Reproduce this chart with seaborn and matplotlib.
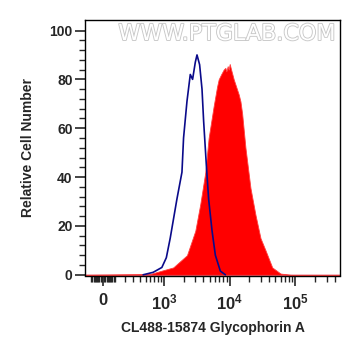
import numpy as np
import pandas as pd
import matplotlib
matplotlib.use("Agg")
import matplotlib.pyplot as plt
import matplotlib.patheffects as pe
from matplotlib.ticker import FixedLocator, NullFormatter
import seaborn as sns

# ---- data ----
blue_x = [456, 668, 919, 1080, 1241, 1575, 1882, 1991, 2246, 2524, 2737, 3011, 3196,
          3503, 3811, 4032, 4434, 4808, 5420, 6088, 7257, 8650]
blue_y = [0, 1, 3, 7, 15, 31, 42, 56, 71, 82, 80, 87, 90,
          86, 76, 63, 45, 31, 18, 8, 1.5, 0]

red_x = [-160, 597, 865, 1381, 2246, 3011, 3591, 4280, 4808, 5733, 6461, 6839, 7437,
         8148, 8650, 8958, 9379, 9718, 10060, 10573, 11583, 13050, 13810, 14660, 15560,
         17476, 20840, 24840, 29600, 35280, 44670, 59760, 85050, 480000]
red_y = [0, 0.3, 1.5, 3, 8, 18, 29, 42, 56, 69, 77, 80, 82,
         84, 84.7, 83.3, 85.4, 84, 86.3, 84, 80, 75.8, 73.8, 71, 66,
         52, 35.5, 24.5, 15, 10, 3, 0.5, 0, 0]

x_tick_vals = [0, 1e3, 1e4, 1e5]
x_tick_labels = [r"$\mathbf{0}$", r"$\mathbf{10^3}$", r"$\mathbf{10^4}$", r"$\mathbf{10^5}$"]
y_tick_vals = [0, 20, 40, 60, 80, 100]

sns.set_style("ticks")
plt.rcParams['font.family'] = ['Liberation Sans', 'DejaVu Sans']
plt.rcParams['mathtext.fontset'] = 'custom'
plt.rcParams['mathtext.bf'] = 'Liberation Sans:bold'
plt.rcParams['mathtext.rm'] = 'Liberation Sans'

fig = plt.figure(figsize=(3.61, 3.56), dpi=100)
ax = fig.add_axes([85/361, 1-275.5/356, (340-85)/361, (275.5-20)/356])

ax.set_xscale('asinh', linear_width=237.6)

red = pd.DataFrame({"x": red_x, "y": red_y})
blue = pd.DataFrame({"x": blue_x, "y": blue_y})
ax.axhline(0, color="#c8a8d8", linewidth=1.0, zorder=1)
ax.fill_between(red["x"], red["y"], 0, color="#ff0000", linewidth=0.6, edgecolor="#ff4040", zorder=2)
sns.lineplot(data=blue, x="x", y="y", ax=ax, color="#0a0a8a", linewidth=1.2, zorder=3,
             estimator=None, sort=False)

ax.set_xlim(-160, 480000)
ax.set_ylim(-0.3, 104.3)

# ticks
ax.xaxis.set_major_locator(FixedLocator(x_tick_vals))
ax.set_xticklabels(x_tick_labels)
minor_x = ([v for v in range(-100, 101, 10) if v != 0] +
           [v * 100 for v in range(2, 10)] + [v * 1000 for v in range(2, 10)] +
           [v * 10000 for v in range(2, 10)] + [v * 100000 for v in range(2, 5)])
ax.xaxis.set_minor_locator(FixedLocator(minor_x))
ax.xaxis.set_minor_formatter(NullFormatter())
ax.yaxis.set_major_locator(FixedLocator(y_tick_vals))
ax.yaxis.set_minor_locator(FixedLocator([v for v in range(0, 104, 4) if v % 20 != 0]))
ax.set_yticklabels([str(v) for v in y_tick_vals], fontweight='bold')

ax.tick_params(axis='x', which='major', length=7, width=1.2, pad=5, labelsize=12)
ax.tick_params(axis='x', which='minor', length=4, width=1.0)
ax.tick_params(axis='y', which='major', length=7, width=1.2, pad=2, labelsize=10)
ax.tick_params(axis='y', which='minor', length=4, width=1.0)

for s in ax.spines.values():
    s.set_visible(True)
    s.set_color('black')
    s.set_linewidth(1.0)

ax.set_xlabel("CL488-15874 Glycophorin A", fontsize=10, fontweight='bold')
ax.set_ylabel("Relative Cell Number", fontsize=10, fontweight='bold')
ax.xaxis.set_label_coords(0.5, -0.178)
ax.yaxis.set_label_coords(-0.195, 0.5)

# watermark
ax.text(0.557, 0.945, "WWW.PTGLAB.COM", transform=ax.transAxes, ha='center', va='center',
        fontsize=16, color='white', family='DejaVu Sans', zorder=1,
        path_effects=[pe.withStroke(linewidth=1.3, foreground='#c8c8c8')])

fig.savefig("out.png", dpi=100)
